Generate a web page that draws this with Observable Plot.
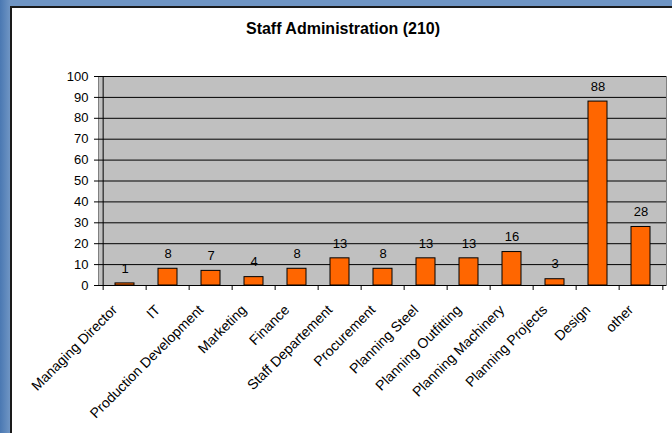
<!DOCTYPE html>
<html>
<head>
<meta charset="utf-8">
<script src="https://cdn.jsdelivr.net/npm/d3@7"></script>
<script src="https://cdn.jsdelivr.net/npm/@observablehq/plot@0.6"></script>
<style>
  html, body { margin: 0; padding: 0; }
  #outer { position: relative; width: 672px; height: 433px; background: linear-gradient(90deg, #4a78b2 0px, #6f95c4 10px); overflow: hidden; }
  #panel { position: absolute; left: 10px; top: 6px; width: 662px; height: 427px; background: white; border-left: 2px solid #1a1a1a; border-top: 2px solid #1a1a1a; box-sizing: border-box; }
  #title { position: absolute; left: 0; top: 12px; width: 662px; text-align: center; font: bold 16px "Liberation Sans", Arial, sans-serif; color: #000; }
  #chart { position: absolute; left: -2px; top: -2px; }
</style>
</head>
<body>
<div id="outer"><div id="panel"><div id="title">Staff Administration (210)</div><div id="chart"></div></div></div>
<script>
const categories = ["Managing Director", "IT", "Production Development", "Marketing", "Finance", "Staff Departement", "Procurement", "Planning Steel", "Planning Outfitting", "Planning Machinery", "Planning Projects", "Design", "other"];
const values = [1, 8, 7, 4, 8, 13, 8, 13, 13, 16, 3, 88, 28];
const yTicks = [0, 10, 20, 30, 40, 50, 60, 70, 80, 90, 100];

const data = categories.map((c, i) => ({cat: c, value: values[i]}));

const W = 662, H = 427, mL = 88, mR = 6, mT = 70, mB = 148;
const step = (W - mL - mR) / categories.length;

const chart = Plot.plot({
  width: W, height: H,
  marginLeft: mL, marginRight: mR, marginTop: mT, marginBottom: mB,
  style: {fontFamily: "'Liberation Sans', Arial, sans-serif", fontSize: "13px", background: "transparent", color: "black", overflow: "visible"},
  x: {domain: categories, paddingInner: 0.565, paddingOuter: 0.2825, label: null},
  y: {domain: [0, 100], label: null},
  marks: [
    Plot.frame({fill: "#c0c0c0", stroke: "#808080"}),
    Plot.ruleY(yTicks.slice(1), {stroke: "black", strokeWidth: 1}),
    Plot.barY(data, {x: "cat", y: "value", fill: "#ff6600", stroke: "black", strokeWidth: 1}),
    Plot.text(data, {x: "cat", y: "value", text: d => String(d.value), dy: -15, fontSize: 13, fill: "black"}),
    Plot.axisY({ticks: yTicks, tickSize: 4, tickPadding: 6, fontSize: 13, stroke: "black"}),
    Plot.axisX({tickSize: 0, tickRotate: -45, tickPadding: 22, dx: -10, fontSize: 14}),
    Plot.ruleX(categories, {x: d => d, y1: 0, y2: 0, insetBottom: -5, dx: -step / 2, stroke: "black"}),
    Plot.ruleX(categories.slice(-1), {x: d => d, y1: 0, y2: 0, insetBottom: -5, dx: step / 2, stroke: "black"}),
    Plot.ruleY([0], {stroke: "black"}),
    Plot.ruleX([categories[0]], {x: d => d, dx: -step / 2, stroke: "black"})
  ]
});
document.getElementById("chart").append(chart);
</script>
</body>
</html>
